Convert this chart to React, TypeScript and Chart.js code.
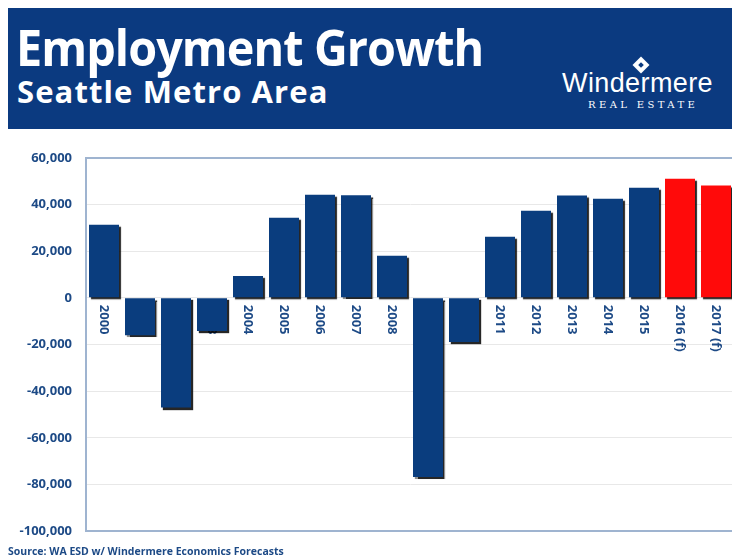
import React, { useEffect, useRef } from "react";
import { Chart, registerables } from "chart.js";

Chart.register(...registerables);

const years = [
  "2000", "2001", "2002", "2003", "2004", "2005", "2006", "2007", "2008",
  "2009", "2010", "2011", "2012", "2013", "2014", "2015", "2016 (f)", "2017 (f)",
];
const jobs = [
  31300, -16000, -47000, -14200, 9400, 34300, 44200, 44000, 18000,
  -76800, -18900, 26200, 37300, 43800, 42500, 47200, 51000, 48100,
];
const isForecast = [
  false, false, false, false, false, false, false, false, false,
  false, false, false, false, false, false, false, true, true,
];
const yTicks = [60000, 40000, 20000, 0, -20000, -40000, -60000, -80000, -100000];

const BLUE = "#0A3D7E";
const RED = "#FF0A0A";
const TEXT_BLUE = "#1D4A86";
const BORDER = "#9FB4D0";

const labelPlugin = {
  id: "inlineLabels",
  beforeDatasetsDraw(chart: any) {
    const { ctx, scales } = chart;
    const x = scales.x;
    const y = scales.y;
    const y0 = y.getPixelForValue(0);
    ctx.save();
    ctx.font = "bold 13px 'Open Sans'";
    ctx.fillStyle = TEXT_BLUE;
    ctx.textAlign = "left";
    ctx.textBaseline = "middle";
    years.forEach((lab, i) => {
      const px = x.getPixelForValue(i);
      ctx.save();
      ctx.translate(px, y0 + 7);
      ctx.rotate(Math.PI / 2);
      ctx.fillText(lab, 0, 0);
      ctx.restore();
    });
    ctx.restore();
  },
};

const shadowPlugin = {
  id: "barShadow",
  beforeDatasetDraw(chart: any) {
    const ctx = chart.ctx;
    ctx.save();
    ctx.shadowColor = "rgba(0,0,0,0.85)";
    ctx.shadowOffsetX = 2;
    ctx.shadowOffsetY = 2;
    ctx.shadowBlur = 1;
  },
  afterDatasetDraw(chart: any) {
    chart.ctx.restore();
  },
};

function BarChart() {
  const ref = useRef<HTMLCanvasElement | null>(null);
  useEffect(() => {
    if (!ref.current) return;
    const chart = new Chart(ref.current, {
      type: "bar",
      data: {
        labels: years,
        datasets: [
          {
            data: jobs,
            backgroundColor: isForecast.map((f) => (f ? RED : BLUE)),
            borderWidth: 0,
            barPercentage: 1,
            categoryPercentage: 30 / 36,
          },
        ],
      },
      options: {
        animation: false,
        responsive: true,
        maintainAspectRatio: false,
        layout: { padding: { top: 13, right: 26, bottom: 17, left: 0 } },
        plugins: {
          legend: { display: false },
          tooltip: { enabled: false },
          title: { display: false },
        },
        scales: {
          x: {
            grid: { display: false },
            ticks: { display: false },
            border: { display: false },
            afterFit: (s: any) => {
              s.height = 0;
            },
          },
          y: {
            min: -100000,
            max: 60000,
            afterBuildTicks: (s: any) => {
              s.ticks = yTicks.map((v) => ({ value: v }));
            },
            afterFit: (s: any) => {
              s.width = 86;
            },
            grid: {
              color: (c: any) =>
                c.tick && (c.tick.value === 60000 || c.tick.value === -100000) ? BORDER : "#E8E8E8",
              lineWidth: (c: any) =>
                c.tick && (c.tick.value === 60000 || c.tick.value === -100000) ? 2 : 1,
              drawTicks: false,
            },
            border: { display: true, color: BORDER, width: 2 },
            ticks: {
              padding: 14,
              color: TEXT_BLUE,
              font: { family: "'Open Sans'", size: 13, weight: "bold" },
              callback: (v: any) => Number(v).toLocaleString("en-US"),
            },
          },
        },
      },
      plugins: [labelPlugin, shadowPlugin],
    });
    return () => chart.destroy();
  }, []);
  return <canvas ref={ref} />;
}

export default function App() {
  return (
    <div
      style={{
        position: "fixed",
        left: 0,
        top: 0,
        width: 732,
        height: 558,
        overflow: "hidden",
        background: "#fff",
        fontFamily: "'Open Sans', sans-serif",
      }}
    >
      <div
        style={{
          position: "absolute",
          left: 8,
          top: 8,
          width: 740,
          height: 121,
          background: "#0B3A80",
        }}
      />
      <div
        style={{
          position: "absolute",
          left: 16,
          top: 14,
          color: "#fff",
          fontWeight: 700,
          fontSize: 50,
          lineHeight: "66px",
          letterSpacing: -1,
          whiteSpace: "nowrap",
          transform: "scaleX(0.935)",
          transformOrigin: "left center",
        }}
      >
        Employment Growth
      </div>
      <div
        style={{
          position: "absolute",
          left: 17,
          top: 71,
          color: "#fff",
          fontWeight: 700,
          fontSize: 31,
          lineHeight: "40px",
          letterSpacing: 1.1,
          whiteSpace: "nowrap",
        }}
      >
        Seattle Metro Area
      </div>
      <div
        style={{
          position: "absolute",
          left: 635,
          top: 59,
          width: 12,
          height: 12,
          background: "#fff",
          transform: "rotate(45deg)",
        }}
      >
        <div
          style={{
            position: "absolute",
            left: 4,
            top: 4,
            width: 4,
            height: 4,
            background: "#0B3A80",
          }}
        />
      </div>
      <div
        style={{
          position: "absolute",
          left: 562,
          top: 68,
          color: "#fff",
          fontFamily: "'Liberation Sans', sans-serif",
          fontWeight: 400,
          fontSize: 27,
          lineHeight: "30px",
          letterSpacing: 0.4,
          whiteSpace: "nowrap",
        }}
      >
        Windermere
      </div>
      <div
        style={{
          position: "absolute",
          left: 588,
          top: 98,
          color: "#fff",
          fontFamily: "'DejaVu Serif', serif",
          fontSize: 10,
          lineHeight: "14px",
          letterSpacing: 3.4,
          whiteSpace: "nowrap",
        }}
      >
        REAL ESTATE
      </div>
      <div
        style={{
          position: "absolute",
          left: 0,
          top: 136,
          width: 760,
          height: 417,
        }}
      >
        <BarChart />
      </div>
      <div
        style={{
          position: "absolute",
          left: 8,
          top: 544,
          color: TEXT_BLUE,
          fontWeight: 700,
          fontSize: 10.5,
          lineHeight: "14px",
          whiteSpace: "nowrap",
        }}
      >
        Source: WA ESD w/ Windermere Economics Forecasts
      </div>
    </div>
  );
}
